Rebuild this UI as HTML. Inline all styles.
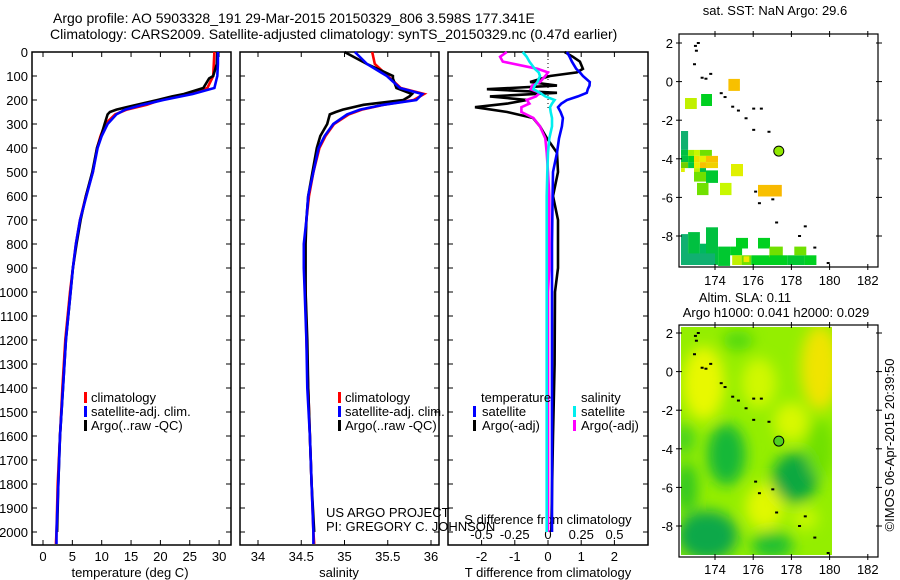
<!DOCTYPE html>
<html><head><meta charset="utf-8"><style>
body{margin:0;background:#fff;}
svg{display:block;font-family:"Liberation Sans",sans-serif;}
text{font-size:13px;fill:#000;}
</style></head><body>
<svg id="c" width="900" height="580" viewBox="0 0 900 580">
<defs>
<clipPath id="m2clip"><rect x="681" y="327" width="151" height="228"/></clipPath>
<filter id="blur" x="-50%" y="-50%" width="200%" height="200%"><feGaussianBlur stdDeviation="7"/></filter>
</defs>
<g>
<text x="53" y="23" style="font-size:14px">Argo profile: AO 5903328_191 29-Mar-2015 20150329_806 3.598S 177.341E</text>
<text x="50" y="39" style="font-size:14px">Climatology: CARS2009. Satellite-adjusted climatology: synTS_20150329.nc (0.47d earlier)</text>
</g>
<g id="g"></g>
</svg>
<script>
// ---------- data ----------
const depthClim = [0,50,100,150,175,200,220,240,260,300,350,400,500,600,700,800,900,1000,1200,1400,1600,1800,2000,2050];
const tempClim  = [29.2,29.1,29.0,28.0,25,20,17.7,14.3,12.3,10.6,9.8,9.2,8.5,7.3,6.3,5.6,5.1,4.6,3.8,3.3,2.9,2.5,2.3,2.2];
const tempSat   = [29.8,29.8,29.7,29.2,25.5,20.5,17,14,12.5,11,10,9.3,8.5,7.4,6.3,5.6,5.1,4.7,3.9,3.4,2.9,2.6,2.3,2.3];
const depthArgo = [0,50,100,110,150,175,185,200,220,240,250,260,300,350,400,500,600,700,800,900,1000,1200,1400,1600,1800,2000];
const tempArgo  = [29.7,29.6,29.0,28.3,27.3,24,22,19.5,16,12.5,11.4,11,10.5,9.9,9.2,8.4,7.3,6.4,5.7,5.1,4.7,3.9,3.4,2.9,2.6,2.4];
const salClim   = [35.32,35.35,35.5,35.65,35.92,35.8,35.45,35.2,35.05,34.88,34.78,34.71,34.64,34.59,34.56,34.54,34.54,34.55,34.56,34.58,34.6,34.62,34.64,34.65];
const salSat    = [35.12,35.26,35.49,35.64,35.9,35.83,35.45,35.18,35.03,34.87,34.77,34.7,34.64,34.58,34.56,34.53,34.53,34.54,34.56,34.57,34.6,34.62,34.64,34.64];
const salArgo   = [35.0,35.26,35.56,35.56,35.6,35.78,35.75,35.68,35.22,34.98,34.9,34.83,34.8,34.72,34.68,34.63,34.58,34.56,34.55,34.55,34.55,34.57,34.58,34.6,34.62,34.65];
const depthDiff = [0,20,40,70,85,100,125,140,155,170,185,200,215,230,250,275,310,360,420,500,600,700,800,900,1000,1300,1600,2000];
const tDiffSat  = [0.57,0.65,0.72,0.85,0.96,1.05,1.26,1.25,1.2,1.17,0.9,0.57,0.4,0.3,0.38,0.45,0.42,0.33,0.27,0.15,0.14,0.13,0.12,0.12,0.12,0.12,0.12,0.12];
const tDiffArgo = [0.5,0.75,0.96,1.05,0.87,0.06,-0.54,0.27,-1.84,0.27,-1.75,-0.63,-1.23,-2.2,-1.23,-0.45,-0.24,-0.03,0.27,0.3,0.15,0.3,0.3,0.3,0.21,0.2,0.15,0.1];
const sDiffSat  = [-0.19,-0.16,-0.14,-0.1,-0.07,-0.06,-0.08,-0.1,-0.11,-0.06,-0.02,0.05,0.03,0.015,0.02,0.03,0.03,0.01,0.0,-0.005,-0.01,-0.01,-0.01,-0.01,-0.01,-0.01,-0.01,-0.01];
const sDiffArgo = [-0.31,-0.36,-0.34,-0.08,0.0,-0.02,-0.06,-0.12,-0.13,-0.06,-0.09,-0.16,-0.14,-0.2,-0.2,-0.11,-0.06,-0.02,-0.01,0.0,0.01,0.01,0.01,0.01,0.0,0.0,0.0,0.0];
const depthTicks = [0,100,200,300,400,500,600,700,800,900,1000,1100,1200,1300,1400,1500,1600,1700,1800,1900,2000];
const tempTicks = [0,5,10,15,20,25,30];
const salTicks = [34,34.5,35,35.5,36];
const tDiffTicks = [-2,-1,0,1,2];
const sDiffTicks = [-0.5,-0.25,0,0.25,0.5];
const sDiffLabels = ['-0.5','-0.25','0','0.25','0.5'];
const lonTicks = [174,176,178,180,182];
const latTicks = [2,0,-2,-4,-6,-8];
// SST cells: lon0, latTop, dlon, dlat, colour
const sstCells = [
[174.7,0.14,0.6,0.62,'#f8c000'],[172.43,-0.85,0.62,0.57,'#c0f000'],[173.27,-0.64,0.57,0.62,'#00d020'],
[172.22,-2.56,0.37,0.98,'#10b070'],
[172.22,-3.54,0.37,0.31,'#00c040'],[172.59,-3.54,0.31,0.31,'#a0f000'],[172.9,-3.54,0.31,0.31,'#c8f800'],[173.21,-3.54,0.63,0.31,'#70e000'],
[172.22,-3.85,0.37,0.32,'#00c040'],[172.59,-3.85,0.31,0.32,'#00d020'],[172.9,-3.85,0.31,0.32,'#f0e000'],[173.21,-3.85,0.32,0.32,'#e8f000'],[173.53,-3.85,0.63,0.32,'#f8c000'],
[172.22,-4.17,0.37,0.31,'#70d000'],[172.59,-4.17,0.31,0.31,'#00c840'],[172.9,-4.17,0.31,0.31,'#e8f000'],[173.21,-4.17,0.32,0.31,'#f8c000'],[173.53,-4.17,0.63,0.31,'#f0d000'],
[172.22,-4.48,0.2,0.2,'#e0f000'],[172.9,-4.48,0.31,0.2,'#c0f000'],[173.21,-4.48,0.32,0.2,'#00c040'],
[172.9,-4.68,0.63,0.5,'#70e000'],[173.53,-4.6,0.63,0.65,'#00c830'],
[174.84,-4.27,0.63,0.63,'#e0f000'],[173.06,-5.25,0.6,0.63,'#70e000'],[174.26,-5.25,0.6,0.63,'#c8f800'],
[176.25,-5.35,0.63,0.6,'#f8c000'],[176.88,-5.35,0.62,0.6,'#f8b800'],
[172.22,-7.9,0.37,1.6,'#10b070'],[172.59,-7.8,0.62,1.7,'#00c040'],[173.21,-8.4,0.32,1.1,'#00b860'],[173.53,-7.55,0.63,1.95,'#00c040'],
[172.4,-8.9,1.6,0.6,'#10b070'],[174.16,-8.55,0.63,1.0,'#00c830'],[174.79,-8.55,0.63,0.45,'#00d020'],[175.1,-8.1,0.63,0.55,'#00d020'],
[174.9,-9.0,0.5,0.5,'#c0f000'],[175.4,-9.0,0.5,0.5,'#70e000'],[175.5,-9.05,0.3,0.3,'#f0e800'],[175.9,-9.0,1.3,0.5,'#00d020'],
[176.25,-8.1,0.63,0.55,'#00d020'],[176.85,-8.55,0.7,0.55,'#70e000'],[176.88,-9.0,0.9,0.5,'#00d020'],[177.78,-9.0,0.9,0.5,'#00c830'],
[178.15,-8.55,0.63,0.45,'#70e000'],[178.68,-9.0,0.63,0.5,'#00d020']
];
// SLA blobs: lon, lat, rx(deg), ry(deg), colour
const slaBlobs = [
[173.4,-0.6,1.1,1.9,'#e8f800'],[179.5,0.2,1.0,2.2,'#f0e400'],[176.3,-0.6,0.9,1.3,'#d0f800'],[178.0,-2.6,0.9,1.0,'#d8f800'],
[176.6,-7.0,1.0,1.2,'#e0f800'],[178.7,-7.6,0.7,0.6,'#c8f800'],[175.2,1.6,0.8,0.5,'#50d810'],
[174.6,-4.3,1.0,1.6,'#18b838'],[178.2,-5.5,1.2,1.3,'#08a840'],[173.6,-8.5,1.6,1.3,'#10a848'],[177.0,-9.0,1.1,0.7,'#20c030'],
[172.5,-6.0,0.6,1.3,'#30c820'],[179.5,-4.0,0.7,1.5,'#70e000'],[172.4,-3.5,0.5,0.8,'#40d020']
];
// Islands (lon, lat)
const islands = [[172.95,1.85],[173.1,2.0],[173.0,1.6],[172.9,0.9],[173.3,0.2],[173.5,0.15],[173.75,0.4],[174.3,-0.6],[174.5,-0.8],[174.9,-1.3],[175.2,-1.5],[176.0,-1.4],[176.4,-1.4],[175.6,-1.9],[176.0,-2.5],[176.8,-2.6],[176.1,-5.7],[176.3,-6.3],[177.0,-6.1],[177.2,-7.3],[178.7,-7.5],[178.4,-8.0],[179.2,-8.6],[179.9,-9.4]];

// ---------- helpers ----------
const NS='http://www.w3.org/2000/svg';
const G=document.getElementById('g');
function mk(tag,attrs,parent){const e=document.createElementNS(NS,tag);for(const k in attrs)e.setAttribute(k,attrs[k]);(parent||G).appendChild(e);return e;}
function txt(x,y,s,anchor,parent,size){const t=mk('text',{x:x,y:y,'text-anchor':anchor||'start'},parent);if(size)t.style.fontSize=size+'px';t.textContent=s;return t;}
const yD = d => 52 + d*0.24;
const xT = v => 43 + v*5.87;
const xS = v => 258 + (v-34)*86.5;
const xTd = v => 548 + v*33.2;
const xSd = v => 548 + v*133;
const xLon = l => 715 + (l-174)*19.1;
const yLat1 = l => 43 + (2-l)*19.3;
const yLat2 = l => 333 + (2-l)*19.3;

function panel(x0,x1,name){
  const r=mk('rect',{x:x0,y:52,width:x1-x0,height:493,fill:'none',stroke:'#000','stroke-width':1.5});
  
  
  depthTicks.forEach(d=>{mk('line',{x1:x0,x2:x0+5,y1:yD(d),y2:yD(d),stroke:'#000'});mk('line',{x1:x1-5,x2:x1,y1:yD(d),y2:yD(d),stroke:'#000'});});
}
function line(xs,ds,xf,color,name,w){
  const pts=xs.map((v,i)=>xf(v).toFixed(1)+','+yD(ds[i]).toFixed(1)).join(' ');
  const p=mk('polyline',{points:pts,fill:'none',stroke:color,'stroke-width':w||2.6,'stroke-linejoin':'miter'});
  
  
}
function xticks(ticks,f,x0,x1,labels,ylab){
  ticks.forEach((t,i)=>{const x=f(t);mk('line',{x1:x,x2:x,y1:52,y2:57,stroke:'#000'});mk('line',{x1:x,x2:x,y1:540,y2:545,stroke:'#000'});
    const tl=txt(x,ylab,labels?labels[i]:String(t),'middle');
    
    });
}
function legendMark(x,y,color){mk('rect',{x:x,y:y-10,width:3,height:11,fill:color});}

// ---------- panel 1: temperature ----------
panel(32,231,'temperature-panel');
depthTicks.forEach(d=>{const t=txt(28,yD(d)+5,String(d),'end');
  
  });
xticks(tempTicks,xT,32,231,null,561);
let t1=txt(130,577,'temperature (deg C)','middle');

line(tempClim,depthClim,xT,'#f00','temp-climatology-line');
line(tempArgo,depthArgo,xT,'#000','temp-argo-line');
line(tempSat,depthClim,xT,'#00f','temp-satellite-line');
[['#f00','climatology'],['#00f','satellite-adj. clim.'],['#000','Argo(..raw -QC)']].forEach((l,i)=>{legendMark(84,402+i*14,l[0]);const t=txt(91,402+i*14,l[1]);
  });

// ---------- panel 2: salinity ----------
panel(240,439,'salinity-panel');
xticks(salTicks,xS,240,439,null,561);
let t2=txt(339,577,'salinity','middle');

line(salClim,depthClim,xS,'#f00','sal-climatology-line');
line(salArgo,depthArgo,xS,'#000','sal-argo-line');
line(salSat,depthClim,xS,'#00f','sal-satellite-line');
[['#f00','climatology'],['#00f','satellite-adj. clim.'],['#000','Argo(..raw -QC)']].forEach((l,i)=>{legendMark(338,402+i*14,l[0]);const t=txt(345,402+i*14,l[1]);
  });
let us=txt(326,517,'US ARGO PROJECT');
let pi=txt(326,531,'PI: GREGORY C. JOHNSON');

// ---------- panel 3: differences ----------
panel(448,648,'difference-panel');
mk('line',{x1:548,x2:548,y1:55,y2:110,stroke:'#000','stroke-dasharray':'1,3'});
xticks(tDiffTicks,xTd,448,648,null,561);
sDiffTicks.forEach((t,i)=>{const l=txt(xSd(t),539,sDiffLabels[i],'middle');});
let t3=txt(548,524,'S difference from climatology','middle');
let t4=txt(548,577,'T difference from climatology','middle');
line(tDiffArgo,depthDiff,xTd,'#000','t-diff-argo-line');
line(tDiffSat,depthDiff,xTd,'#00f','t-diff-satellite-line');
line(sDiffArgo,depthDiff,xSd,'#f0f','s-diff-argo-line');
line(sDiffSat,depthDiff,xSd,'#0ee','s-diff-satellite-line');
let lt=txt(481,402,'temperature');
let ls=txt(581,402,'salinity');
[['#00f','satellite',473,482],['#000','Argo(-adj)',473,482],['#0ee','satellite',573,581],['#f0f','Argo(-adj)',573,581]].forEach((l,i)=>{const y=416+(i%2)*14;legendMark(l[2],y,l[0]);const t=txt(l[3],y,l[1]);
  });

// ---------- maps ----------
function mapFrame(y0,y1,yLat,name,labY){
  const r=mk('rect',{x:679,y:y0,width:199,height:y1-y0,fill:'none',stroke:'#000','stroke-width':1.2});
  
  
  latTicks.forEach(l=>{const y=yLat(l);mk('line',{x1:676,x2:682,y1:y,y2:y,stroke:'#000'});mk('line',{x1:876,x2:882,y1:y,y2:y,stroke:'#000'});
    const t=txt(673,y+5,String(l),'end');});
  lonTicks.forEach(l=>{const x=xLon(l);mk('line',{x1:x,x2:x,y1:y0-3,y2:y0+3,stroke:'#000'});mk('line',{x1:x,x2:x,y1:y1-3,y2:y1+3,stroke:'#000'});
    const t=txt(x,labY,String(l),'middle');});
}
sstCells.forEach(c=>{const r=mk('rect',{x:xLon(c[0]).toFixed(1),y:yLat1(c[1]).toFixed(1),width:(c[2]*19.1).toFixed(1),height:(c[3]*19.3).toFixed(1),fill:c[4]});
  });
const hm=mk('g',{'clip-path':'url(#m2clip)'});

mk('rect',{x:681,y:327,width:151,height:228,fill:'#94ee00'},hm);
const bg=mk('g',{filter:'url(#blur)'},hm);
slaBlobs.forEach(b=>{const e=mk('ellipse',{cx:xLon(b[0]),cy:yLat2(b[1]),rx:b[2]*19.1,ry:b[3]*19.3,fill:b[4]},bg);
  });
[yLat1,yLat2].forEach(f=>islands.forEach(p=>mk('rect',{x:xLon(p[0])-1,y:f(p[1])-1,width:3,height:2,fill:'#000'})));
mapFrame(34,267,yLat1,'sst-map',285);
mapFrame(325,557,yLat2,'sla-map',574);
const c1=mk('circle',{cx:xLon(177.34),cy:yLat1(-3.6),r:5,fill:'#90e800',stroke:'#000'});

const c2=mk('circle',{cx:xLon(177.34),cy:yLat2(-3.6),r:5,fill:'#50d020',stroke:'#000'});

let m1=txt(775,15,'sat. SST: NaN Argo: 29.6','middle');
let m2=txt(745,302,'Altim. SLA: 0.11','middle');
let m3=txt(776,317,'Argo h1000: 0.041 h2000: 0.029','middle');
let cr=txt(0,0,'©IMOS 06-Apr-2015 20:39:50','middle');cr.setAttribute('transform','translate(894,445) rotate(-90)');

</script>
</body></html>
